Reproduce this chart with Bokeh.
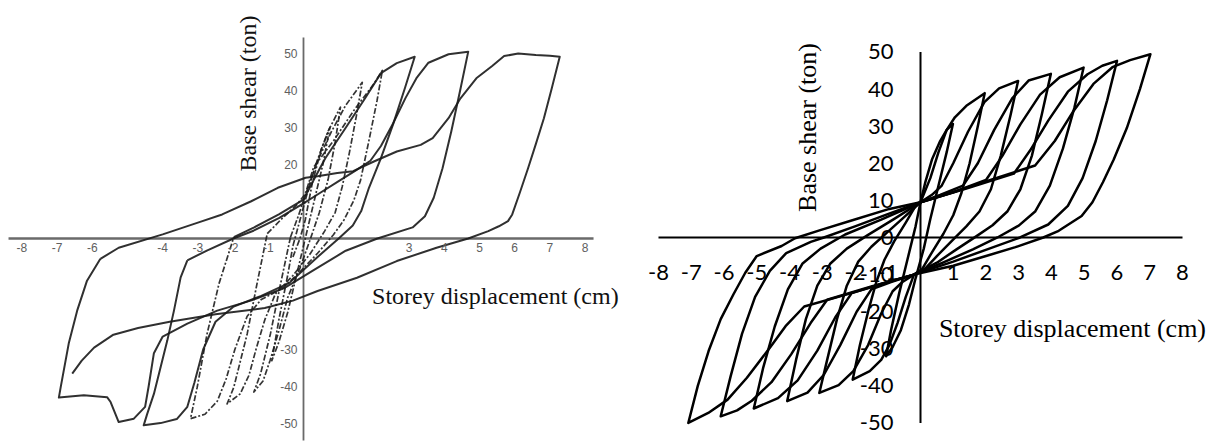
import math
from bokeh.plotting import figure
from bokeh.layouts import row
from bokeh.models import Range1d
from bokeh.core.properties import value
from bokeh.embed import file_html
from bokeh.resources import INLINE

# ---------------- experimental loops (left) ----------------
# displacement (cm) / base shear (ton), one list pair per cycle
exp_x1 = [-0.3, -0.1, 0.05, 0.25, 0.5, 0.75, 0.55, 0.3, 0.05, -0.2, -0.45, -0.7, -0.9, -0.7, -0.45, -0.3]
exp_y1 = [-5, 0, 5, 15, 24, 30, 20, 10, 0, -10, -20, -28, -33, -22, -10, -2]

exp_x2 = [-0.3, -0.1, 0.1, 0.35, 0.7, 1.05, 0.9, 0.7, 0.45, 0.2, -0.1, -0.45, -0.7, -0.95, -1.15, -1.41,
          -1.22, -0.94, -0.65, -0.37]
exp_y2 = [-2, 5, 12, 20, 29, 35.5, 26, 16, 7, 0, -8, -16, -25, -33, -38.5, -41.5,
          -36.6, -25.8, -12.2, 0.35]

exp_x3 = [-0.37, -0.15, 0.1, 0.4, 0.8, 1.2, 1.67, 1.5, 1.3, 1.1, 0.9, 0.6, 0.2, -0.3, -0.8, -1.1, -1.35,
          -1.55, -1.8, -2.17, -1.98, -1.6, -1.32, -1.03]
exp_y3 = [0.35, 6, 13, 21, 29, 36, 42.2, 33, 23, 14, 7, 2, -4, -10, -15, -22, -30,
          -37, -42, -44.7, -40.2, -25.8, -12.2, 1.3]

exp_x4 = [-1.03, -0.6, -0.2, 0.05, 0.29, 0.86, 1.43, 2.0, 2.24, 2.09, 1.86, 1.62, 1.43, 1.15, 0.85, 0.4,
          -0.1, -0.6, -1.2, -1.6, -1.95, -2.2, -2.45, -2.8, -3.21, -3.02, -2.74, -2.4, -1.98]
exp_y4 = [1.3, 5.5, 9, 12, 19.3, 26.5, 34.6, 41.8, 45.4, 37.3, 26.5, 15.7, 10.3, 5, 1, -4,
          -9, -13.5, -16.5, -21, -30, -38, -44, -47.5, -48.7, -40.2, -25.8, -12.2, 0.35]

exp_x5 = [-1.98, -1.4, -0.7, 0.0, 0.3, 0.62, 1.19, 1.75, 2.2, 2.65, 3.16, 2.88, 2.54, 2.2, 1.86, 1.64,
          1.4, 1.0, 0.4, -0.4, -1.2, -2.0, -2.5, -2.85, -3.1, -3.3, -3.6, -4.06, -4.54, -4.44, -4.25,
          -4.06, -3.87, -3.68, -3.49, -3.3]
exp_y5 = [0.35, 3, 6.5, 10.5, 16, 21.7, 29.8, 37.9, 44.7, 47.4, 49.1, 40.6, 30.7, 21.7, 13.7, 7.4,
          3.5, 0, -5, -12, -15.5, -18.5, -22.5, -30, -39, -45.5, -48.8, -49.9, -50.5, -47.4, -42,
          -34.8, -27.6, -19.5, -10.5, -5.9]

exp_x6 = [-3.3, -2.73, -1.99, -1.42, -0.7, 0.0, 0.5, 1.0, 1.5, 1.9, 2.2, 2.54, 2.9, 3.22, 3.55, 4.12,
          4.68, 4.45, 4.2, 3.95, 3.7, 3.45, 3.1, 2.1, 1.2, 0.3, -0.56, -1.5, -2.45, -3.3, -4.0, -4.25,
          -4.4, -4.5, -4.82, -5.25, -5.48, -5.58, -6.24, -6.95, -6.9, -6.67, -6.43, -6.15, -5.77]
exp_y6 = [-5.9, -3.2, 0, 2.1, 5.5, 9.5, 12.5, 15.5, 18.5, 21, 25, 31, 38, 43.5, 47.5, 49.8,
          50.5, 40, 29, 19, 11, 6, 3, 0, -3.3, -8.5, -13.5, -16.8, -19.5, -23, -26.5, -31,
          -40, -45.5, -48.7, -49.6, -44.2, -42.9, -42.4, -43, -40.3, -28.4, -19.5, -11.4, -5.5]

exp_x7 = [-5.77, -5.25, -4.0, -3.0, -2.31, -1.5, -0.73, 0.06, 0.4, 0.96, 1.41, 2.0, 2.65, 3.33, 3.67,
          4.12, 4.46, 4.91, 5.36, 5.7, 6.1, 6.6, 7.0, 7.28, 7.05, 6.83, 6.6, 6.38, 6.15, 5.93, 5.81,
          5.55, 5.25, 4.68, 3.78, 2.65, 1.52, 0.4, -0.3, -1.1, -2.5, -3.8, -4.7, -5.4, -5.95, -6.3, -6.57]
exp_y7 = [-5.5, -2.5, 1.1, 4.3, 6.5, 10.0, 13.7, 16.4, 16.8, 17.7, 18.2, 20.8, 23.5, 25.3, 27.1,
          32.5, 37.9, 43.3, 46.6, 49.3, 50.0, 49.6, 49.4, 49.1, 40.5, 32.5, 25.5, 19.0, 12.5, 6.5, 4.7,
          3.3, 2.0, 0.0, -2.5, -6.1, -10.6, -14.2, -16.8, -18.8, -20.5, -22.5, -24.2, -26.0, -29.5, -33.0, -36.5]

exp_xticks = [-8, -7, -6, -4, -3, -2, -1, 3, 4, 5, 6, 7, 8]
exp_xlabels = ["-8", "-7", "-6", "-4", "-3", "-2", "-1", "3", "4", "5", "6", "7", "8"]
exp_yticks = [50, 40, 30, 20, -30, -40, -50]
exp_ylabels = ["50", "40", "30", "20", "-30", "-40", "-50"]
exp_xaxis = [-8.38, 8.24]
exp_yaxis = [-54.6, 54.3]

# ---------------- analytical loops (right) ----------------
num_x1 = [0.0, 0.15, 0.35, 0.6, 0.8, 0.99, 0.8, 0.55, 0.3, 0.1, -0.15, -0.35, -0.6, -0.85, -1.05,
          -0.9, -0.65, -0.4, -0.15, 0.0]
num_y1 = [9.5, 15, 21, 26, 29, 30.6, 23, 14, 5, -3, -11, -18, -25, -29.5, -32,
          -25, -15, -6, 3, 9.5]

num_x2 = [0.0, 0.3, 0.55, 0.8, 1.05, 1.4, 1.96, 1.75, 1.5, 1.25, 1.0, 0.7, 0.35, 0.05, -0.2,
          -0.45, -0.7, -0.95, -1.2, -1.55, -2.07, -1.85, -1.6, -1.35, -1.1, -0.8, -0.45, -0.15, 0.0]
num_y2 = [9.5, 16, 23, 29, 32.4, 35.5, 38.9, 30, 20, 12, 6, 1, -4, -8.5, -10,
          -16, -23, -29, -33, -36, -38.3, -29, -20, -12, -6, -1, 4, 8.5, 9.5]

num_x3 = [0.0, 0.35, 0.65, 1.0, 1.45, 1.95, 2.4, 2.98, 2.75, 2.45, 2.15, 1.8, 1.4, 0.95, 0.5, 0.1, -0.2,
          -0.55, -0.85, -1.2, -1.6, -2.05, -2.5, -3.09, -2.85, -2.55, -2.25, -1.9, -1.5, -1.0, -0.5, 0.0]
num_y3 = [9.5, 11.5, 14, 20, 28.5, 36.5, 40.2, 42.2, 33, 22, 13, 7, 3, -1, -5, -8.8, -10,
          -12, -14.5, -20.5, -29, -36, -39.8, -41.9, -33, -22, -13, -6.5, -2.5, 1.5, 5.5, 9.5]

num_x4 = [0.0, 0.6, 1.3, 1.75, 2.25, 2.8, 3.3, 3.98, 3.7, 3.4, 3.05, 2.65, 2.2, 1.7, 1.1, 0.5, -0.2,
          -0.9, -1.5, -1.95, -2.45, -2.95, -3.45, -4.07, -3.8, -3.5, -3.15, -2.75, -2.25, -1.6, -0.8, 0.0]
num_y4 = [9.5, 11.5, 14, 20, 29, 37.5, 42.3, 44.1, 33, 22, 13, 7, 3.3, 0.3, -3.2, -6.8, -10,
          -12, -14, -20, -29, -37, -41.8, -44.1, -33, -22, -13, -7, -3, 0.7, 5, 9.5]

num_x5 = [0.0, 1.0, 2.0, 2.5, 3.05, 3.65, 4.25, 4.98, 4.7, 4.35, 3.95, 3.5, 3.0, 2.35, 1.6, 0.7, -0.2,
          -1.2, -2.1, -2.6, -3.15, -3.75, -4.35, -5.09, -4.8, -4.45, -4.05, -3.6, -3.05, -2.3, -1.2, 0.0]
num_y5 = [9.5, 12.2, 15.5, 22, 30.5, 38.5, 43.2, 45.8, 35, 24, 14, 7, 3.2, 0, -3.2, -6.7, -10,
          -12.5, -15, -21.5, -30.5, -38.5, -43.3, -46.1, -35, -24, -14, -7, -3, 0.8, 4.8, 9.5]

num_x6 = [0.0, 1.4, 2.85, 3.35, 3.9, 4.5, 5.1, 5.55, 6.0, 5.7, 5.35, 4.95, 4.5, 3.9, 3.04, 2.1, 1.0, -0.2,
          -1.5, -2.85, -3.35, -3.95, -4.55, -5.15, -5.6, -6.1, -5.8, -5.45, -5.05, -4.6, -4.1, -3.35,
          -2.95, -2.0, -1.0, 0.0]
num_y6 = [9.5, 13.2, 17.2, 23.5, 31.5, 39.3, 44, 46.3, 47.6, 37, 26, 16, 8.5, 3.5, 0, -3, -6.5, -10,
          -13.2, -16.8, -23, -31.5, -39, -44, -46.6, -48.2, -37.5, -26, -16, -9, -4.2, -1.2,
          0, 3, 6.3, 9.5]

num_x7 = [0.0, 1.2, 2.3, 3.5, 4.1, 4.65, 5.28, 5.86, 6.4, 7.02, 6.7, 6.3, 5.9, 5.57, 5.25, 4.92, 4.22,
          3.75, 2.9, 2.0, 1.0, -0.2, -1.2, -2.35, -3.55, -4.12, -4.6, -5.3, -5.89, -6.48, -7.09,
          -6.8, -6.47, -6.1, -5.71, -5.35, -5.0, -4.24, -3.83, -3.06, -2.13, -0.95, 0.0]
num_y7 = [9.5, 12.8, 16.0, 19.4, 26, 33.8, 41.4, 45.9, 47.8, 49.4, 40, 29.5, 21, 14.9, 9.5, 5.8, 1.8,
          0, -2.6, -5.0, -7.6, -10, -12.6, -15.6, -18.6, -23.9, -29.7, -37.8, -43.7, -47.3, -50,
          -40, -30.6, -22, -15.3, -9.5, -5, -2.3, -0.2, 2, 4.5, 7.7, 9.5]

num_xticks = [-8, -7, -6, -5, -4, -3, -2, -1, 1, 2, 3, 4, 5, 6, 7, 8]
num_xlabels = ["-8", "-7", "-6", "-5", "-4", "-3", "-2", "-1", "1", "2", "3", "4", "5", "6", "7", "8"]
num_yticks = [50, 40, 30, 20, 10, 0, -10, -20, -30, -40, -50]
num_ylabels = ["50", "40", "30", "20", "10", "0", "-10", "-20", "-30", "-40", "-50"]
num_xaxis = [-8, 8]
num_yaxis = [-50, 50]

x_title = "Storey displacement (cm)"
y_title = "Base shear (ton)"


def panel(width, xr, yr):
    p = figure(width=width, height=444, x_range=Range1d(*xr), y_range=Range1d(*yr),
               output_backend="svg", toolbar_location=None,
               x_axis_location=None, y_axis_location=None, min_border=0)
    p.grid.visible = False
    p.outline_line_color = None
    p.background_fill_color = "white"
    p.border_fill_color = "white"
    return p


serif = value("Liberation Serif")

# ---------- left panel (scanned test record, grey ink) ----------
left = panel(620, (-8.608, 9.006), (-55.68, 64.32))
axis_grey = "#6a6a6a"
left.line(exp_xaxis, [0, 0], line_color=axis_grey, line_width=2.4)
left.line([0, 0], exp_yaxis, line_color=axis_grey, line_width=1.8)

exp_loops = [(exp_x1, exp_y1), (exp_x2, exp_y2), (exp_x3, exp_y3), (exp_x4, exp_y4),
             (exp_x5, exp_y5), (exp_x6, exp_y6), (exp_x7, exp_y7)]
for i, (xs, ys) in enumerate(exp_loops):
    if i < 4:
        # early cycles are traced with a dash-dot pen
        left.line(xs, ys, line_color="#1e1e1e", line_width=1.7, line_alpha=0.9,
                  line_dash="6 2 2 2", line_join="round")
    else:
        left.line(xs, ys, line_color="#1a1a1a", line_width=2.0, line_alpha=0.9,
                  line_join="round")

left.text(x=exp_xticks, y=[0] * len(exp_xticks), text=exp_xlabels, y_offset=9,
          text_align="center", text_baseline="middle", text_font=value("Liberation Sans"),
          text_font_size="12px", text_color="#606060")
left.text(x=[0] * len(exp_yticks), y=exp_yticks, text=exp_ylabels, x_offset=-6,
          text_align="right", text_baseline="middle", text_font=value("Liberation Sans"),
          text_font_size="12px", text_color="#606060")
left.text(x=[5.45], y=[-15.6], text=[x_title], text_align="center", text_baseline="middle",
          text_font=serif, text_font_size="24px", text_color="#111111")
left.text(x=[-1.59], y=[39.2], text=[y_title], angle=math.pi / 2, text_align="center",
          text_baseline="middle", text_font=serif, text_font_size="24px", text_color="#111111")

# ---------- right panel (analytical model) ----------
right = panel(594, (-9.160, 8.977), (-55.80, 63.88))
right.line(num_xaxis, [0, 0], line_color="black", line_width=2)
right.line([0, 0], num_yaxis, line_color="black", line_width=2)

num_loops = [(num_x1, num_y1), (num_x2, num_y2), (num_x3, num_y3), (num_x4, num_y4),
             (num_x5, num_y5), (num_x6, num_y6), (num_x7, num_y7)]
for xs, ys in num_loops:
    right.line(xs, ys, line_color="black", line_width=2.5, line_join="round")

sans = value("Lato")
right.text(x=num_xticks, y=[0] * len(num_xticks), text=num_xlabels, y_offset=35,
           text_align="center", text_baseline="middle", text_font=sans,
           text_font_size="22px", text_color="black")
right.text(x=[0] * len(num_yticks), y=num_yticks, text=num_ylabels, x_offset=-27,
           text_align="right", text_baseline="middle", text_font=sans,
           text_font_size="22px", text_color="black")
right.text(x=[4.64], y=[-24.5], text=[x_title], text_align="center", text_baseline="middle",
           text_font=serif, text_font_size="26px", text_color="black")
right.text(x=[-3.45], y=[29.65], text=[y_title], angle=math.pi / 2, text_align="center",
           text_baseline="middle", text_font=serif, text_font_size="26px", text_color="black")

layout = row(left, right)
open("out.html", "w").write(file_html(layout, INLINE))
